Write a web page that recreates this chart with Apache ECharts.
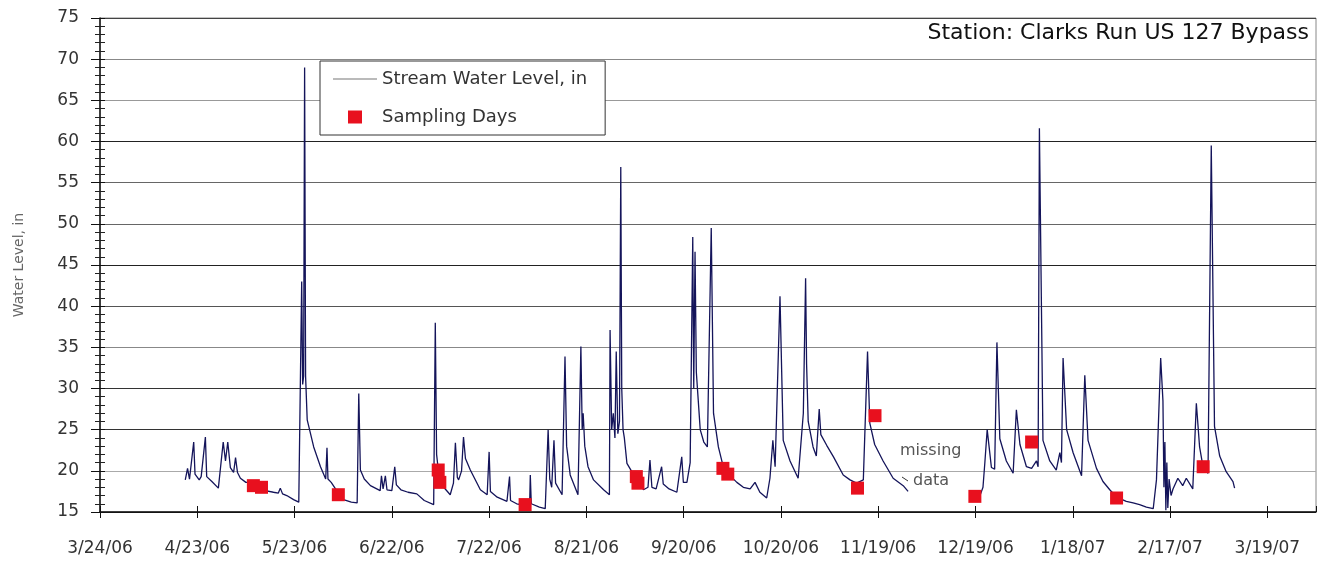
<!DOCTYPE html>
<html>
<head>
<meta charset="utf-8">
<script src="https://cdn.jsdelivr.net/npm/echarts@6/dist/echarts.min.js"></script>
<style>
html,body{margin:0;padding:0;background:#fff;}
#chart{width:1322px;height:563px;}
</style>
</head>
<body>
<div id="chart"></div>
<script>
// Days since 3/24/06 and stream water level (in)
const dayOffset = [
26.3,27.0,27.6,28.9,29.3,30.6,31.2,32.5,32.9,34.5,36.5,37.1,38.0,38.7,39.4,40.2,41.2,41.8,42.4,43.3,
45.0,46.4,48.0,50.0,51.0,53.5,55.0,55.6,56.3,57.6,59.7,61.3,61.9,62.2,62.5,62.8,63.1,63.4,63.9,65.9,
68.0,69.6,70.0,70.3,71.3,73.5,75.1,77.5,79.3,79.8,80.3,81.5,83.4,86.4,86.8,87.3,88.0,88.5,90.0,90.9,
91.4,92.8,95.0,97.7,100.0,102.9,103.4,103.8,104.5,106.0,108.0,109.0,109.6,110.2,110.6,111.5,112.1,112.7,114.2,117.3,
119.4,120.0,120.4,122.5,125.5,126.3,126.6,128.5,131.0,132.5,132.7,133.0,135.5,137.3,138.2,138.7,139.3,140.0,140.5,142.5,
143.4,143.9,145.0,147.4,148.3,148.7,149.0,149.5,150.5,152.2,155.3,157.1,157.3,157.8,158.3,158.8,159.2,159.7,160.2,160.6,
160.9,161.3,161.7,162.5,164.0,165.5,167.6,169.0,169.6,170.2,171.5,173.2,173.7,175.5,177.9,179.4,179.9,181.0,182.0,182.8,
183.1,183.5,183.9,185.1,186.2,187.3,188.5,189.2,190.7,192.2,193.8,196.4,198.4,200.5,202.0,203.5,205.6,206.6,207.5,208.2,
209.7,210.7,212.8,215.3,216.9,217.6,217.9,218.4,219.9,220.9,221.8,222.3,224.1,226.2,229.2,231.3,233.3,235.4,236.7,237.4,
238.9,241.5,244.6,247.7,249.2,250.0,
271.3,272.3,272.9,273.6,274.9,275.9,276.6,277.5,279.5,281.6,282.6,283.7,285.7,287.3,288.8,289.3,289.7,290.8,292.9,294.9,
296.0,296.5,297.0,298.1,300.1,302.7,303.7,304.7,307.3,309.3,311.4,313.5,316.5,318.6,320.6,322.7,324.8,325.8,327.1,327.8,
328.1,328.4,328.7,329.0,329.3,329.7,330.3,330.9,332.4,333.9,335.0,337.0,338.1,339.1,340.2,341.7,342.7,343.7,345.3,347.3,
349.4,349.9
];
const waterLevel = [
18.9,20.3,19.0,23.5,19.6,18.9,19.3,24.1,19.3,18.7,17.9,17.9,23.5,21.2,23.5,20.4,19.8,21.6,19.8,19.1,
18.6,18.6,18.3,17.9,17.6,17.4,17.3,17.9,17.2,17.0,16.5,16.2,16.4,43.0,30.5,31.5,69.0,31.5,26.2,22.9,
20.5,19.0,22.8,19.0,18.6,17.3,16.5,16.2,16.1,29.4,20.1,19.0,18.2,17.6,19.4,17.8,19.4,17.7,17.6,20.5,
18.3,17.7,17.4,17.2,16.4,15.9,38.0,22.0,19.5,18.0,17.1,18.5,23.4,19.2,18.9,20.0,24.1,21.5,20.1,17.7,
17.1,22.3,17.5,16.8,16.3,19.3,16.4,16.0,15.8,15.9,19.5,16.0,15.6,15.4,25.0,19.0,18.0,23.7,18.5,17.1,
33.9,23.0,19.5,17.1,35.1,25.0,27.0,23.0,20.5,18.9,17.7,17.1,37.1,25.0,27.0,24.0,34.5,24.5,26.0,56.9,
30.0,25.0,24.0,20.9,19.9,19.0,17.7,18.0,21.3,18.0,17.8,20.5,18.4,17.8,17.4,21.7,18.6,18.6,21.0,48.4,
30.0,46.6,32.0,25.0,23.5,22.9,49.5,27.0,22.9,20.5,19.6,18.6,18.0,17.8,18.6,17.4,16.7,19.1,23.7,20.5,
41.2,23.7,21.2,19.1,27.0,43.4,33.0,26.0,22.9,21.8,27.5,24.4,23.1,21.7,19.5,18.9,18.5,18.9,34.5,25.8,
23.2,21.2,19.1,18.2,17.5,null,
16.9,18.0,21.1,25.0,20.4,20.2,35.6,23.9,21.2,19.7,27.4,23.2,20.5,20.3,21.2,20.5,61.6,23.7,21.2,20.1,
22.2,21.0,33.7,25.0,22.2,19.4,31.6,23.7,20.3,18.7,17.7,16.8,16.3,16.1,15.9,15.6,15.4,18.9,33.7,28.5,
18.0,23.5,15.2,21.0,15.5,19.0,17.0,17.8,19.1,18.2,19.1,17.8,28.2,22.9,20.4,19.7,59.5,25.4,21.8,19.9,
18.7,17.9
];
// Sampling days
const sampleDay   = [47.3,49.8,73.5,104.3,104.8,131.1,165.4,165.9,192.1,193.6,233.6,239.0,269.8,287.3,313.5,340.2];
const sampleLevel = [18.2,18.0,17.1,20.1,18.6,15.9,19.3,18.5,20.3,19.6,17.9,26.7,16.9,23.5,16.7,20.5];

const xTickLabels = ['3/24/06','4/23/06','5/23/06','6/22/06','7/22/06','8/21/06','9/20/06','10/20/06','11/19/06','12/19/06','1/18/07','2/17/07','3/19/07'];
const xStep = 30;

const lineData = dayOffset.map((d, i) => [d, waterLevel[i] === null ? '-' : waterLevel[i]]);
const sampleData = sampleDay.map((d, i) => [d, sampleLevel[i]]);

const FONT = 'DejaVu Sans';
const gridColors = ['#222','#aaa','#333','#333','#888','#555','#222','#666','#666','#222','#999','#888','#444'];

const chart = echarts.init(document.getElementById('chart'), null, {renderer: 'canvas'});
chart.setOption({
  animation: false,
  backgroundColor: '#fff',
  title: {
    text: 'Station: Clarks Run US 127 Bypass',
    right: 13, top: 22, padding: 0,
    textStyle: {fontFamily: FONT, fontSize: 22, fontWeight: 'normal', color: '#111'}
  },
  legend: {
    left: 320, top: 61, orient: 'vertical',
    padding: [9, 18, 9, 13],
    itemGap: 20, itemWidth: 44, itemHeight: 14,
    backgroundColor: '#fff', borderColor: '#333', borderWidth: 1,
    textStyle: {fontFamily: FONT, fontSize: 18, color: '#333'},
    data: [
      {name: 'Stream Water Level, in', icon: 'path://M0,0 M44,14 M0,6.5 L44,6.5 L44,7.6 L0,7.6 Z', itemStyle: {color: '#777'}},
      {name: 'Sampling Days', icon: 'path://M0,0 M44,14 M15,0.5 L29,0.5 L29,13.5 L15,13.5 Z'}
    ]
  },
  grid: {left: 100, right: 6, top: 18, bottom: 51, show: true, borderColor: '#888', borderWidth: 1, backgroundColor: 'transparent'},
  xAxis: [{
    type: 'value', min: 0, max: 375, interval: xStep,
    axisLine: {show: true, lineStyle: {color: '#111', width: 1.5}},
    axisTick: {show: true, length: 6, lineStyle: {color: '#111'}},
    axisLabel: {
      margin: 28, fontFamily: FONT, fontSize: 17, color: '#333', showMaxLabel: false,
      formatter: v => (v % xStep === 0 && v / xStep < xTickLabels.length) ? xTickLabels[v / xStep] : ''
    },
    splitLine: {show: false}
  }, {
    type: 'value', min: 0, max: 375, interval: xStep, position: 'bottom',
    axisLine: {show: false},
    axisTick: {show: true, inside: true, length: 6, lineStyle: {color: '#111'}},
    axisLabel: {show: false}, splitLine: {show: false}
  }],
  yAxis: [{
    type: 'value', min: 15, max: 75, interval: 5,
    name: 'Water Level, in', nameLocation: 'middle', nameGap: 74, nameRotate: 90,
    nameTextStyle: {fontFamily: FONT, fontSize: 14, color: '#666'},
    axisLine: {show: true, lineStyle: {color: '#111', width: 1.5}},
    axisTick: {show: true, length: 9, lineStyle: {color: '#111'}},
    minorTick: {show: true, splitNumber: 5, length: 5, lineStyle: {color: '#222'}},
    axisLabel: {margin: 21, fontFamily: FONT, fontSize: 17, color: '#333'},
    splitLine: {show: true, lineStyle: {color: gridColors, width: 1.2}}
  }, {
    type: 'value', min: 15, max: 75, interval: 5, position: 'left',
    axisLine: {show: false},
    axisTick: {show: true, inside: true, length: 5, lineStyle: {color: '#111'}},
    minorTick: {show: true, splitNumber: 5, length: 5, lineStyle: {color: '#222'}},
    axisLabel: {show: false}, splitLine: {show: false}
  }],
  series: [{
    name: 'Stream Water Level, in',
    type: 'line', xAxisIndex: 0, yAxisIndex: 0,
    data: lineData, showSymbol: false, symbol: 'none', connectNulls: false,
    lineStyle: {color: '#14145a', width: 1.3},
    itemStyle: {color: '#14145a'},
    z: 3
  }, {
    name: 'Sampling Days',
    type: 'scatter', xAxisIndex: 0, yAxisIndex: 0,
    data: sampleData, symbol: 'rect', symbolSize: 13,
    itemStyle: {color: '#e8101e', opacity: 1},
    z: 4
  }],
  graphic: [
    {type: 'text', left: 900, top: 443, style: {text: 'missing', font: '16px "DejaVu Sans"', fill: '#555'}},
    {type: 'text', left: 913, top: 473, style: {text: 'data', font: '16px "DejaVu Sans"', fill: '#555'}},
    {type: 'line', shape: {x1: 902, y1: 477, x2: 908, y2: 481}, style: {stroke: '#333', lineWidth: 1}}
  ]
});
</script>
</body>
</html>
